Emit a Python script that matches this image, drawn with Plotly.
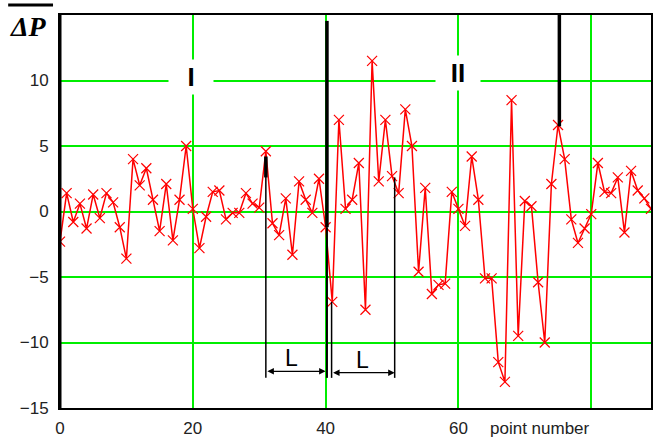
import plotly.graph_objects as go

# ---- data ----
point_number = list(range(90))
delta_p = [
    -2.3, 1.4, -0.8, 0.6, -1.3, 1.3, -0.5, 1.4, 0.7, -1.2,
    -3.6, 4.0, 2.0, 3.3, 0.9, -1.5, 2.1, -2.2, 0.9, 5.0,
    0.2, -2.8, -0.4, 1.5, 1.6, -0.6, -0.1, -0.1, 1.4, 0.6,
    0.3, 4.6, -0.9, -1.8, 1.0, -3.3, 2.3, 0.9, -0.1, 2.5,
    -1.2, -6.9, 7.0, 0.2, 0.9, 3.7, -7.5, 11.5, 2.3, 7.0,
    2.7, 1.4, 7.8, 5.0, -4.6, 1.8, -6.3, -5.6, -5.5, 1.5,
    0.2, -1.1, 4.2, 0.9, -5.1, -5.1, -11.5, -13.0, 8.5, -9.5,
    0.8, 0.4, -5.4, -10.0, 2.1, 6.6, 4.0, -0.6, -2.4, -1.3,
    -0.2, 3.7, 1.5, 1.4, 2.6, -1.6, 3.1, 1.6, 1.0, 0.2,
]
x_tick_vals = [0, 20, 40, 60, 80]
x_tick_text = ["0", "20", "40", "60", ""]
y_tick_vals = [-15, -10, -5, 0, 5, 10]

# marker lines (x, y_from, y_to, width)
marker_lines = [
    (31.0, 4.0, -12.7, 1.5),
    (31.0, 4.2, 2.6, 3.5),
    (40.2, 14.55, -1.2, 3.5),
    (40.2, -1.2, -12.7, 2),
    (40.9, -6.9, -12.7, 1.5),
    (50.4, 2.6, -12.7, 1.5),
    (75.2, 15.0, 6.5, 3.5),
]
# interval arrows (x_from, x_to, y)
interval_arrows = [(31.0, 40.0, -12.2), (40.9, 50.4, -12.3)]
interval_labels = [(34.8, -11.2, "L"), (45.5, -11.3, "L")]
region_labels = [(19.8, 10.3, "I"), (60.0, 10.6, "II")]

fig = go.Figure()
fig.add_trace(go.Scatter(
    x=point_number, y=delta_p, mode="lines+markers",
    line=dict(color="#ff0000", width=1.5),
    marker=dict(symbol="x-thin-open", size=10, color="#ff0000",
                line=dict(color="#ff0000", width=1.2)),
    showlegend=False,
))

shapes = []
for x, y0, y1, w in marker_lines:
    shapes.append(dict(type="line", xref="x", yref="y", x0=x, x1=x, y0=y0, y1=y1,
                       line=dict(color="black", width=w), layer="above"))
# overline on the y title
shapes.append(dict(type="line", xref="paper", yref="paper",
                   x0=-0.0877, x1=-0.0118, y0=1.0254, y1=1.0254,
                   line=dict(color="black", width=3)))
# thicker left border
shapes.append(dict(type="line", xref="paper", yref="paper",
                   x0=0, x1=0, y0=0, y1=1, line=dict(color="black", width=3)))

annotations = []
for xa, xb, y in interval_arrows:
    annotations.append(dict(x=xb, y=y, ax=xa, ay=y, xref="x", yref="y",
                            axref="x", ayref="y", text="", showarrow=True,
                            arrowhead=2, arrowside="end+start", arrowsize=1,
                            arrowwidth=1.3, arrowcolor="black", standoff=0,
                            startstandoff=0))
for x, y, t in interval_labels:
    annotations.append(dict(x=x, y=y, xref="x", yref="y", text=t, showarrow=False,
                            font=dict(family="Liberation Sans, Arial", size=23,
                                      color="black")))
for x, y, t in region_labels:
    annotations.append(dict(x=x, y=y, xref="x", yref="y", text="<b>" + t + "</b>",
                            showarrow=False, bgcolor="white", width=42, height=32,
                            font=dict(family="Liberation Sans, Arial", size=26,
                                      color="black")))
annotations.append(dict(x=-0.0877, y=0.972, xref="paper", yref="paper",
                        xanchor="left", yanchor="middle", showarrow=False,
                        text="<b><i>ΔP</i></b>",
                        font=dict(family="Liberation Serif, Times New Roman",
                                  size=28, color="black")))
annotations.append(dict(x=0.725, y=-0.052, xref="paper", yref="paper",
                        xanchor="left", yanchor="middle", showarrow=False,
                        text="point number",
                        font=dict(family="Liberation Sans, Arial", size=17,
                                  color="#222")))

fig.update_layout(
    width=654, height=439,
    margin=dict(l=60, r=1, t=15, b=31),
    paper_bgcolor="white", plot_bgcolor="white",
    shapes=shapes, annotations=annotations,
    font=dict(family="Liberation Sans, Arial", size=17, color="#222"),
)
fig.update_xaxes(range=[0, 89], tickvals=x_tick_vals, ticktext=x_tick_text,
                 showgrid=True, gridcolor="#00ee00", gridwidth=2,
                 zeroline=False, showline=True, linecolor="black", linewidth=2,
                 mirror=True, ticks="", ticklabelstandoff=4)
fig.update_yaxes(range=[-15, 15], tickvals=y_tick_vals,
                 showgrid=True, gridcolor="#00ee00", gridwidth=2,
                 zeroline=False, showline=True, linecolor="black", linewidth=2,
                 mirror=True, ticks="", ticklabelstandoff=6)

fig.write_html("out.html", config={"displayModeBar": False},
               post_script="document.body.style.margin='0';document.body.style.overflow='hidden';")
